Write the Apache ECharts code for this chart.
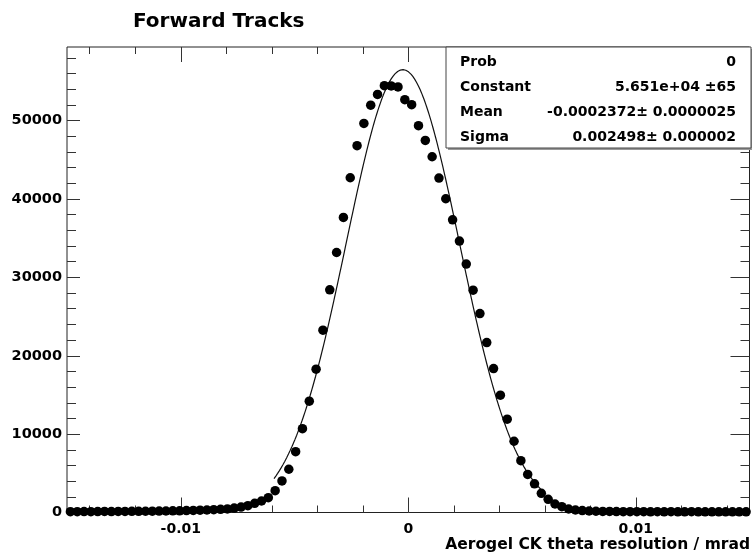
<!DOCTYPE html>
<html>
<head>
<meta charset="utf-8">
<script src="https://cdn.jsdelivr.net/npm/echarts@6/dist/echarts.min.js"></script>
<style>
  html, body { margin: 0; padding: 0; background: #fff; }
  #chart { width: 752px; height: 553px; }
</style>
</head>
<body>
<div id="chart"></div>
<script>
// Histogram binning: 100 bins over [-0.015, 0.015]
const binLow = -0.015;
const binWidth = 0.0003;

// Entries per bin
const counts = [
  110, 100, 120, 110, 120, 130, 120, 140, 130, 150,
  150, 160, 170, 180, 190, 210, 220, 240, 260, 290,
  320, 360, 400, 460, 560, 690, 868, 1175, 1469, 1890,
  2784, 4023, 5517, 7764, 10701, 14200, 18287, 23267, 28413, 33176,
  37646, 42716, 46802, 49650, 51974, 53353, 54464, 54426, 54298, 52676,
  52038, 49356, 47479, 45397, 42677, 40034, 37352, 34632, 31695, 28375,
  25387, 21683, 18363, 14966, 11902, 9092, 6615, 4853, 3665, 2452,
  1686, 1085, 741, 447, 320, 240, 190, 160, 140, 130,
  120, 110, 100, 110, 100, 90, 100, 90, 100, 90,
  90, 100, 90, 80, 90, 80, 90, 80, 80, 90
];

// Gaussian fit result
const fitConstant = 5.651e4;
const fitMean = -0.0002372;
const fitSigma = 0.002498;
const fitRange = [-0.0059, 0.0060];

// Axis ticks and labels
const xRange = [-0.015, 0.015];
const yRange = [0, 59400];
const xMajor = [-0.01, 0, 0.01];
const xMinor = [-0.014, -0.012, -0.008, -0.006, -0.004, -0.002, 0.002, 0.004, 0.006, 0.008, 0.012, 0.014];
const yMajor = [0, 10000, 20000, 30000, 40000, 50000];
const yMinor = [2000, 4000, 6000, 8000, 12000, 14000, 16000, 18000, 22000, 24000, 26000, 28000,
                32000, 34000, 36000, 38000, 42000, 44000, 46000, 48000, 52000, 54000, 56000, 58000];

// Stats box rows
const statNames = ['Prob', 'Constant', 'Mean', 'Sigma'];
const statValues = ['0', '5.651e+04 \u00b165', '-0.0002372\u00b1 0.0000025', '0.002498\u00b1 0.000002'];

const FONT = '"DejaVu Sans", "Liberation Sans", Arial, sans-serif';
const tickColor = '#333';

const points = counts.map((c, i) => [binLow + (i + 0.5) * binWidth, c]);

const fitPoints = [];
for (let k = 0; k <= 300; k++) {
  const x = fitRange[0] + (fitRange[1] - fitRange[0]) * k / 300;
  const z = (x - fitMean) / fitSigma;
  fitPoints.push([x, fitConstant * Math.exp(-0.5 * z * z)]);
}

function xAxisDef(pos, ticks, len, labels) {
  return {
    type: 'value', position: pos, min: xRange[0], max: xRange[1],
    axisLine: { show: false, onZero: false },
    splitLine: { show: false },
    axisTick: { show: true, inside: true, length: len, customValues: ticks,
                lineStyle: { color: tickColor, width: 1 } },
    axisLabel: labels ? {
      show: true, customValues: xMajor, margin: 10,
      fontFamily: FONT, fontWeight: 'bold', fontSize: 14, color: '#000',
      formatter: v => (v === 0 ? '0' : String(+v.toFixed(3)))
    } : { show: false }
  };
}
function yAxisDef(pos, ticks, len, labels) {
  return {
    type: 'value', position: pos, min: yRange[0], max: yRange[1],
    axisLine: { show: false, onZero: false },
    splitLine: { show: false },
    axisTick: { show: true, inside: true, length: len, customValues: ticks,
                lineStyle: { color: tickColor, width: 1 } },
    axisLabel: labels ? {
      show: true, customValues: yMajor, margin: 5,
      fontFamily: FONT, fontWeight: 'bold', fontSize: 14.5, color: '#000',
      formatter: v => String(v)
    } : { show: false }
  };
}

const statGraphics = [];
const boxLeft = 446, boxTop = 47, boxW = 305, boxH = 101, rowH = 25;
statGraphics.push({
  type: 'rect', z: 100, shape: { x: boxLeft + 2, y: boxTop + 2, width: boxW, height: boxH },
  style: { fill: '#999' }
});
statGraphics.push({
  type: 'rect', z: 101, shape: { x: boxLeft, y: boxTop, width: boxW, height: boxH },
  style: { fill: '#fff', stroke: '#444', lineWidth: 1 }
});
statNames.forEach((name, r) => {
  const cy = boxTop + 15.5 + r * rowH;
  statGraphics.push({
    type: 'text', z: 102, x: boxLeft + 14, y: cy,
    style: { text: name, fontFamily: FONT, fontWeight: 'bold', fontSize: 14,
             fill: '#000', align: 'left', verticalAlign: 'middle' }
  });
  statGraphics.push({
    type: 'text', z: 102, x: boxLeft + 290, y: cy,
    style: { text: statValues[r], fontFamily: FONT, fontWeight: 'bold', fontSize: 14,
             fill: '#000', align: 'right', verticalAlign: 'middle' }
  });
});

const chart = echarts.init(document.getElementById('chart'), null, { renderer: 'canvas' });
chart.setOption({
  animation: false,
  backgroundColor: '#fff',
  grid: {
    left: 67, right: 2.5, top: 47, bottom: 40.5,
    show: true, borderColor: '#222', borderWidth: 1, backgroundColor: 'transparent'
  },
  xAxis: [
    xAxisDef('bottom', xMajor, 15, true),
    xAxisDef('bottom', xMinor, 7, false),
    xAxisDef('top', xMajor, 15, false),
    xAxisDef('top', xMinor, 7, false)
  ],
  yAxis: [
    yAxisDef('left', yMajor, 13, true),
    yAxisDef('left', yMinor, 9, false),
    yAxisDef('right', yMajor, 19, false),
    yAxisDef('right', yMinor, 9, false)
  ],
  series: [
    {
      name: 'fit', type: 'line', data: fitPoints, showSymbol: false, smooth: false,
      lineStyle: { color: '#111', width: 1.2 }, z: 3, silent: true
    },
    {
      name: 'hist', type: 'scatter', data: points, symbol: 'circle', symbolSize: 9.5,
      itemStyle: { color: '#000', opacity: 1 }, z: 4, clip: false
    }
  ],
  graphic: [
    {
      type: 'text', left: 133, top: 12,
      style: { text: 'Forward Tracks', fontFamily: FONT, fontWeight: 'bold', fontSize: 20, fill: '#000' }
    },
    {
      type: 'text', z: 50, x: 750, y: 545,
      style: { text: 'Aerogel CK theta resolution / mrad', fontFamily: FONT, fontWeight: 'bold',
               fontSize: 15.5, fill: '#000', align: 'right', verticalAlign: 'middle' }
    }
  ].concat(statGraphics)
});
</script>
</body>
</html>
